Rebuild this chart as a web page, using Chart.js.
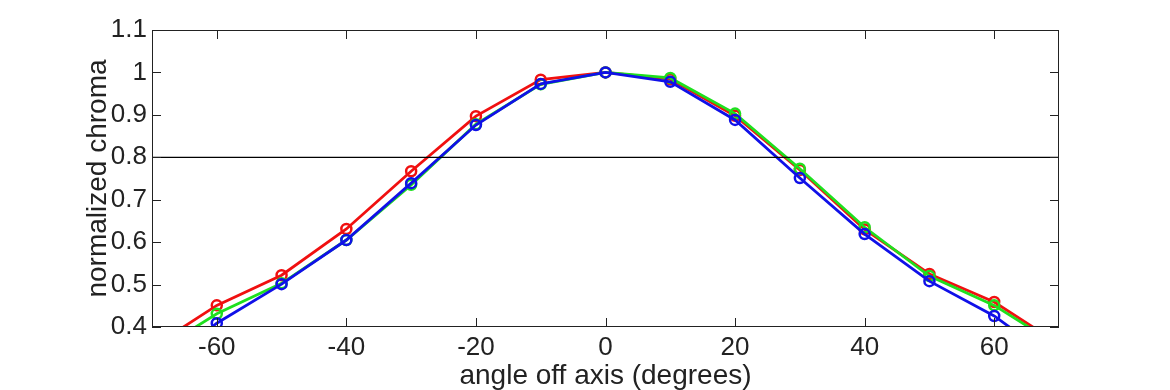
<!DOCTYPE html>
<html><head><meta charset="utf-8">
<script src="https://cdn.jsdelivr.net/npm/chart.js@4/dist/chart.umd.min.js"></script>
<style>html,body{margin:0;padding:0;background:#fff}#wrap{width:1170px;height:390px}</style>
</head><body><div id="wrap"><canvas id="c" width="1170" height="390"></canvas></div>
<script>
const angles = [-70,-60,-50,-40,-30,-20,-10,0,10,20,30,40,50,60,70];
const redValues = [0.352,0.451,0.522,0.631,0.767,0.897,0.983,1.0,0.984,0.898,0.770,0.630,0.525,0.459,0.360];
const greenValues = [0.336,0.431,0.503,0.605,0.735,0.878,0.972,1.0,0.987,0.903,0.773,0.635,0.520,0.451,0.355];
const blueValues = [0.290,0.409,0.501,0.605,0.739,0.876,0.973,1.0,0.978,0.888,0.751,0.619,0.508,0.426,0.315];
const thresholdValue = 0.8;
const xTickLabels = [-60,-40,-20,0,20,40,60];
const yTickLabels = [0.4,0.5,0.6,0.7,0.8,0.9,1,1.1];
const xLimits = [-70,70];
const yLimits = [0.4,1.1];

function pts(vals){ return angles.map((a,i)=>({x:a,y:vals[i]})); }
function series(vals,color,order){
  return {data:pts(vals),borderColor:color,borderWidth:2.8,pointRadius:5,pointHoverRadius:5,
    pointBorderWidth:2.5,pointBackgroundColor:'rgba(0,0,0,0)',pointBorderColor:color,
    tension:0,order:order,clip:0};
}
const tickFont = {family:'"Liberation Sans", Arial, sans-serif', size:26, lineHeight:1};
const titleFont = {family:'"Liberation Sans", Arial, sans-serif', size:28, lineHeight:1};

const boxPlugin = {
  id:'box',
  afterDatasetsDraw(chart){
    const {ctx, chartArea:a, scales:{x,y}} = chart;
    ctx.save();
    ctx.strokeStyle = '#222'; ctx.lineWidth = 1;
    ctx.strokeRect(Math.round(a.left)+0.5, Math.round(a.top)+0.5, Math.round(a.right-a.left)-1, Math.round(a.bottom-a.top)-1);
    ctx.beginPath();
    const L = 9;
    xTickLabels.forEach(v=>{
      const px = Math.round(x.getPixelForValue(v))+0.5;
      ctx.moveTo(px,a.bottom); ctx.lineTo(px,a.bottom-L);
      ctx.moveTo(px,a.top); ctx.lineTo(px,a.top+L);
    });
    yTickLabels.forEach(v=>{
      const py = Math.round(y.getPixelForValue(v))+0.5;
      ctx.moveTo(a.left,py); ctx.lineTo(a.left+L,py);
      ctx.moveTo(a.right,py); ctx.lineTo(a.right-L,py);
    });
    ctx.stroke();
    ctx.restore();
  }
};

new Chart(document.getElementById('c'), {
  type:'line',
  data:{datasets:[
    {data:[{x:xLimits[0],y:thresholdValue},{x:xLimits[1],y:thresholdValue}],borderColor:'#000',borderWidth:1.2,pointRadius:0,order:0},
    series(blueValues,'#1010e8',1),
    series(greenValues,'#1ee01e',2),
    series(redValues,'#f01010',3)
  ]},
  options:{
    responsive:false, animation:false, devicePixelRatio:1,
    layout:{padding:{top:30,right:111,left:0,bottom:0}},
    plugins:{legend:{display:false},tooltip:{enabled:false}},
    scales:{
      x:{type:'linear',min:xLimits[0],max:xLimits[1],
        afterBuildTicks:s=>{s.ticks = xTickLabels.map(v=>({value:v}));},
        afterFit:s=>{s.height=63;},
        grid:{display:false,drawTicks:false},border:{display:false},
        ticks:{font:tickFont,color:'#222',padding:8,maxRotation:0,autoSkip:false,callback:v=>String(v)},
        title:{display:true,text:'angle off axis (degrees)',font:titleFont,color:'#222',padding:{top:0,bottom:0}}
      },
      y:{type:'linear',min:yLimits[0],max:yLimits[1],
        afterBuildTicks:s=>{s.ticks = yTickLabels.map(v=>({value:v}));},
        afterFit:s=>{s.width=152;},
        grid:{display:false,drawTicks:false},border:{display:false},
        ticks:{font:tickFont,color:'#222',padding:5,autoSkip:false,callback:v=>String(Math.round(v*10)/10)},
        title:{display:true,text:'normalized chroma',font:titleFont,color:'#222',padding:{top:84,bottom:0}}
      }
    }
  },
  plugins:[boxPlugin]
});
</script></body></html>
